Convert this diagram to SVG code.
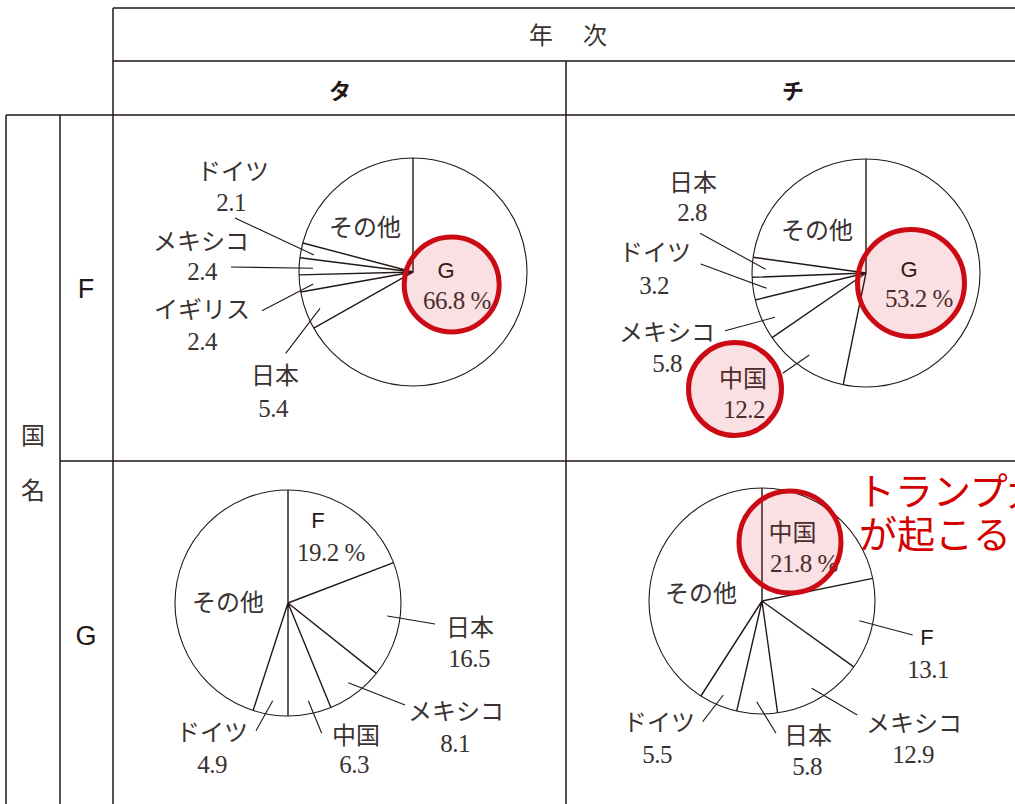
<svg xmlns="http://www.w3.org/2000/svg" width="1015" height="804" viewBox="0 0 1015 804">
<style>
.grid{stroke:#231815;stroke-width:1.5;fill:none}
.pie{stroke:#231815;stroke-width:1.1;fill:#fff}
.rad{stroke:#231815;stroke-width:1.4;fill:none}
.lead{stroke:#231815;stroke-width:1.1;fill:none}
.jp{font-family:"Noto Sans CJK JP","Liberation Serif",serif;font-size:24px;fill:#3a3230;text-anchor:middle}
.num{font-family:"Liberation Serif","Noto Sans CJK JP",serif;font-size:25px;fill:#3a3230;text-anchor:middle;letter-spacing:-0.5px}
.num.st{text-anchor:start}
.lat{font-family:"Liberation Sans",Arial,sans-serif;font-size:22px;fill:#231815;text-anchor:middle}
.lat.big{font-size:27px}
.hd{font-family:"Noto Sans CJK JP",sans-serif;font-size:22px;font-weight:bold;fill:#231815;text-anchor:middle}
.mark{fill:#d40010;fill-opacity:0.12;stroke:#cc0a14;stroke-width:5}
.red{font-family:"Noto Sans CJK JP",sans-serif;font-size:38px;fill:#d40000}
</style>
<rect width="1015" height="804" fill="#fff"/>

<g id="table">
<path class="grid" d="M113 8H1015M113 61H1015M6 115H1015M60 461H1015M113 8V804M566 61V804M6 115V804M60 115V804"/>
<text class="jp" x="541" y="44">年</text>
<text class="jp" x="595" y="44">次</text>
<text class="hd" x="340" y="99">タ</text>
<text class="hd" x="793" y="99">チ</text>
<text class="jp" x="33" y="444">国</text>
<text class="jp" x="33" y="499">名</text>
<text class="lat big" x="86" y="298">F</text>
<text class="lat big" x="86" y="645">G</text>
</g>

<g id="pie-F-ta">
<circle class="pie" cx="413" cy="272" r="114"/>
<path class="rad" d="M413 158V272L313.8 328.2M413 272L300.8 292M413 272L299 274.9M413 272L299.9 257.7M413 272L302.8 243"/>
<text class="jp" x="365" y="236">その他</text>
<text class="jp" x="233" y="180">ドイツ</text>
<text class="num" x="231" y="211">2.1</text>
<text class="jp" x="201" y="250">メキシコ</text>
<text class="num" x="202" y="280">2.4</text>
<text class="jp" x="202" y="318">イギリス</text>
<text class="num" x="202" y="350">2.4</text>
<text class="jp" x="275" y="384">日本</text>
<text class="num" x="273" y="417">5.4</text>
<text class="lat" x="446" y="278">G</text>
<text class="num st" x="423" y="309">66.8 %</text>
</g>

<g id="pie-F-chi">
<circle class="pie" cx="866" cy="273" r="114"/>
<path class="rad" d="M866 159V273L843.2 384.7M866 273L772.1 337.7M866 273L755.2 300M866 273L752.1 277.3M866 273L753.1 257.3"/>
<text class="jp" x="817" y="239">その他</text>
<text class="jp" x="693" y="191">日本</text>
<text class="num" x="692" y="221">2.8</text>
<text class="jp" x="655" y="261">ドイツ</text>
<text class="num" x="654" y="294">3.2</text>
<text class="jp" x="667" y="341">メキシコ</text>
<text class="num" x="667" y="372">5.8</text>
<text class="jp" x="743" y="386.5">中国</text>
<text class="num" x="744" y="418">12.2</text>
<text class="lat" x="909" y="277">G</text>
<text class="num st" x="885" y="307">53.2 %</text>
</g>

<g id="pie-G-ta">
<circle class="pie" cx="288" cy="603" r="113"/>
<path class="rad" d="M288 490V716M288 603L393.6 562.7M288 603L376.4 673.4M288 603L330.9 707.5M288 603L253.1 710.5"/>
<text class="jp" x="228" y="611">その他</text>
<text class="lat" x="318" y="528">F</text>
<text class="num st" x="297" y="561">19.2 %</text>
<text class="jp" x="470" y="636">日本</text>
<text class="num" x="469" y="667">16.5</text>
<text class="jp" x="456" y="720">メキシコ</text>
<text class="num" x="455" y="752">8.1</text>
<text class="jp" x="356" y="744">中国</text>
<text class="num" x="354" y="773">6.3</text>
<text class="jp" x="212" y="741">ドイツ</text>
<text class="num" x="212" y="773">4.9</text>
</g>

<g id="pie-G-chi">
<circle class="pie" cx="762" cy="601" r="113"/>
<path class="rad" d="M762 488V601L872.7 578.4M762 601L853.8 666.9M762 601L777.6 712.9M762 601L736.7 711.1M762 601L700.9 696"/>
<text class="jp" x="701" y="601.5">その他</text>
<text class="jp" x="792.5" y="541">中国</text>
<text class="num st" x="770" y="572">21.8 %</text>
<text class="lat" x="927" y="645">F</text>
<text class="num" x="928" y="678">13.1</text>
<text class="jp" x="914" y="732">メキシコ</text>
<text class="num" x="913" y="763">12.9</text>
<text class="jp" x="808" y="744">日本</text>
<text class="num" x="807" y="775">5.8</text>
<text class="jp" x="659" y="731">ドイツ</text>
<text class="num" x="657" y="763">5.5</text>
</g>

<g id="connectors">
<path class="lead" d="M235 218L314 255M231 267L313 268.3M262 310.7L313.3 284M285.7 353.3L320 308.3"/>
<path class="lead" d="M700 233.3L765.7 269.3M700.7 264L766.7 288.3M725 330.7L775 317.3M782.7 373.3L809.3 355"/>
<path class="lead" d="M387.3 616L435 624M348.3 682.7L405 705M308.3 700.7L321.7 733.3M272.7 700.7L256 730.7"/>
<path class="lead" d="M859.3 620.7L912.7 635M811.7 688.3L857.3 715M756.7 701.7L776 733.3M723.3 695L702.7 721.7"/>
</g>

<g id="highlights">
<circle class="mark" cx="451.7" cy="284.5" r="47.5"/>
<circle class="mark" cx="911" cy="283" r="53.5"/>
<circle class="mark" cx="735" cy="389" r="46.5"/>
<circle class="mark" cx="790" cy="542" r="51"/>
</g>

<g id="note">
<text class="red" x="857" y="505">トランプ大</text>
<text class="red" x="859" y="548">が起こる</text>
</g>
</svg>
